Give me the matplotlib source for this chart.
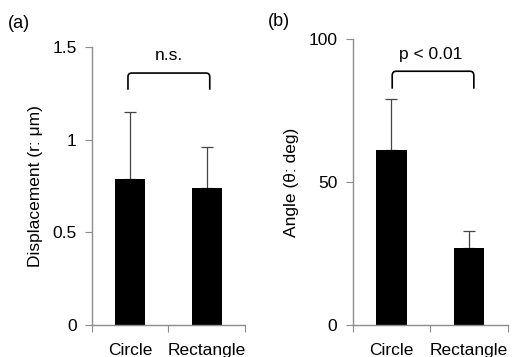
import numpy as np
import matplotlib
matplotlib.use('Agg')
import matplotlib.pyplot as plt
from matplotlib.path import Path
from matplotlib.patches import PathPatch

plt.rcParams['font.family'] = ['Liberation Sans', 'DejaVu Sans']
plt.rcParams['font.size'] = 12.5

# Data
categories = ['Circle', 'Rectangle']
disp_mean = [0.79, 0.74]
disp_err = [0.36, 0.22]
angle_mean = [61, 27]
angle_err = [18, 6]

axis_gray = '#8c8c8c'


def bracket(ax, x0, x1, y_top, y_bot, r_x, r_y):
    # bracket with rounded corners
    verts = [(x0, y_bot), (x0, y_top - r_y), (x0, y_top), (x0 + r_x, y_top),
             (x1 - r_x, y_top), (x1, y_top), (x1, y_top - r_y), (x1, y_bot)]
    codes = [Path.MOVETO, Path.LINETO, Path.CURVE3, Path.CURVE3,
             Path.LINETO, Path.CURVE3, Path.CURVE3, Path.LINETO]
    ax.add_patch(PathPatch(Path(verts, codes), fill=False, lw=1.2,
                           edgecolor='black', clip_on=False))


def style(ax, ylim, yticks, yticklabels, ylabel):
    x = np.arange(len(categories))
    ax.set_xlim(-0.5, len(categories) - 0.5)
    ax.set_ylim(*ylim)
    for s in ['top', 'right']:
        ax.spines[s].set_visible(False)
    for s in ['left', 'bottom']:
        ax.spines[s].set_color(axis_gray)
        ax.spines[s].set_linewidth(1.0)
    ax.set_yticks(yticks)
    ax.set_yticklabels(yticklabels)
    ax.set_xticks(np.append(x - 0.5, len(categories) - 0.5))
    ax.set_xticklabels([])
    ax.set_xticks(x, minor=True)
    ax.set_xticklabels(categories, minor=True)
    ax.tick_params(axis='x', which='minor', length=0, pad=13)
    ax.tick_params(axis='x', which='major', length=5, color=axis_gray, direction='out')
    ax.tick_params(axis='y', length=5, color=axis_gray, direction='out', pad=6)
    ax.set_ylabel(ylabel, labelpad=7)


fig = plt.figure(figsize=(5.2, 3.57), dpi=100)

# (a) displacement
ax1 = fig.add_axes([0.177, 0.0896, 0.294, 0.7784])
x = np.arange(len(categories))
ax1.bar(x, disp_mean, width=0.39, color='black', zorder=2)
ax1.errorbar(x, disp_mean, yerr=[np.zeros(2), disp_err], fmt='none',
             ecolor='#444444', elinewidth=0.9, capsize=4, capthick=0.9, zorder=1)
style(ax1, (0, 1.5), [0, 0.5, 1, 1.5], ['0', '0.5', '1', '1.5'],
      'Displacement (r: μm)')
bracket(ax1, -0.03, 1.04, 1.36, 1.27, 0.05, 0.02)
ax1.text(0.5, 1.455, 'n.s.', ha='center', va='center')
fig.text(0.015, 0.935, '(a)', fontsize=13, va='center')

# (b) angle
ax2 = fig.add_axes([0.678, 0.0896, 0.299, 0.8014])
ax2.bar(x, angle_mean, width=0.39, color='black', zorder=2)
ax2.errorbar(x, angle_mean, yerr=[np.zeros(2), angle_err], fmt='none',
             ecolor='#444444', elinewidth=0.9, capsize=4, capthick=0.9, zorder=1)
style(ax2, (0, 100), [0, 50, 100], ['0', '50', '100'], 'Angle (θ: deg)')
bracket(ax2, 0.01, 1.06, 88.7, 82.6, 0.05, 1.5)
ax2.text(0.5, 94.5, 'p < 0.01', ha='center', va='center')
fig.text(0.515, 0.94, '(b)', fontsize=13, va='center')

fig.savefig('out.png', dpi=100)
